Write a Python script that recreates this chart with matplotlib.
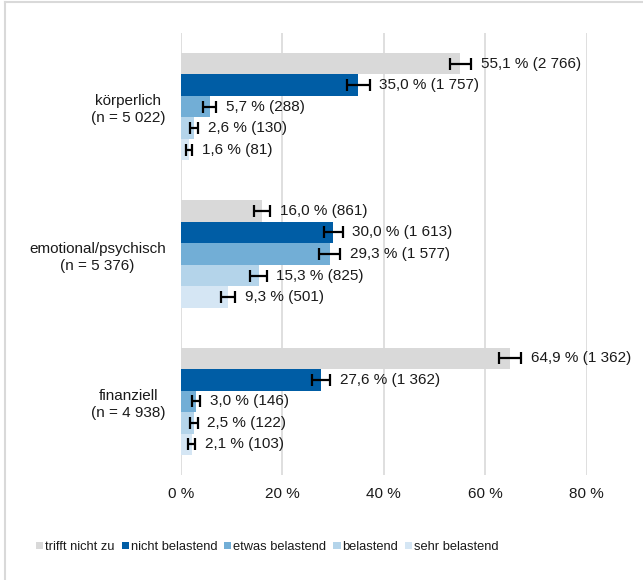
import matplotlib
matplotlib.use("Agg")
import matplotlib.pyplot as plt
from matplotlib.lines import Line2D
import numpy as np

plt.rcParams['font.family'] = ['Liberation Sans', 'DejaVu Sans']

categories = ["körperlich\n(n = 5 022)", "emotional/psychisch\n(n = 5 376)", "finanziell\n(n = 4 938)"]
series_names = ["trifft nicht zu", "nicht belastend", "etwas belastend", "belastend", "sehr belastend"]
colors = ["#D9D9D9", "#005DA5", "#72AED6", "#B4D4EA", "#D5E6F4"]

# values per series (one entry per category)
trifft_nicht_zu = [55.1, 16.0, 64.9]
nicht_belastend = [35.0, 30.0, 27.6]
etwas_belastend = [5.7, 29.3, 3.0]
belastend = [2.6, 15.3, 2.5]
sehr_belastend = [1.6, 9.3, 2.1]

counts_trifft = [2766, 861, 1362]
counts_nicht = [1757, 1613, 1362]
counts_etwas = [288, 1577, 146]
counts_bel = [130, 825, 122]
counts_sehr = [81, 501, 103]

err_trifft = [2.1, 1.6, 2.2]
err_nicht = [2.2, 1.9, 1.8]
err_etwas = [1.3, 2.1, 0.8]
err_bel = [0.8, 1.6, 0.8]
err_sehr = [0.6, 1.4, 0.7]

xticks = [0, 20, 40, 60, 80]
xticklabels = ["0 %", "20 %", "40 %", "60 %", "80 %"]

values = [trifft_nicht_zu, nicht_belastend, etwas_belastend, belastend, sehr_belastend]
counts = [counts_trifft, counts_nicht, counts_etwas, counts_bel, counts_sehr]
errs = [err_trifft, err_nicht, err_etwas, err_bel, err_sehr]

def fmt_count(n):
    return f"{n:,}".replace(",", " ")

def fmt_label(v, n):
    return f"{v:.1f}".replace(".", ",") + " % (" + fmt_count(n) + ")"

W, H = 643, 580
fig = plt.figure(figsize=(W / 100, H / 100), dpi=100)
ax = fig.add_axes([181 / W, 1 - 475 / H, 405.7 / W, 442 / H])

# figure border (light grey, left & top visible)
fig.add_artist(Line2D([4.5 / W, 4.5 / W], [0, 1 - 1.5 / H], transform=fig.transFigure,
                      color="#D9D9D9", linewidth=1.5))
fig.add_artist(Line2D([4.5 / W, 1], [1 - 1.5 / H, 1 - 1.5 / H], transform=fig.transFigure,
                      color="#D9D9D9", linewidth=1.5))

y = np.arange(len(categories))
h = 0.146
for i, (vals, cnts, er) in enumerate(zip(values, counts, errs)):
    pos = y + (i - 2) * h
    ax.barh(pos, vals, height=h, color=colors[i], label=series_names[i], zorder=2)
    ax.errorbar(vals, pos, xerr=er, fmt="none", ecolor="black", elinewidth=1.6,
                capsize=4.2, capthick=1.6, zorder=3)
    for v, p, n, e in zip(vals, pos, cnts, er):
        ax.annotate(fmt_label(v, n), xy=(v + e, p), xytext=(7, 0),
                    textcoords="offset points", va="center", ha="left",
                    fontsize=11, color="#1a1a1a", annotation_clip=False, zorder=4)

ax.set_xlim(0, 80)
ax.set_ylim(2.5, -0.5)
ax.set_xticks(xticks)
ax.set_xticklabels(xticklabels, fontsize=11, color="#1a1a1a")
ax.set_yticks(y)
ax.set_yticklabels(categories, fontsize=11, color="#1a1a1a", ha="right",
                   multialignment="center", linespacing=1.3)
ax.tick_params(axis="y", length=0, pad=11)
ax.tick_params(axis="x", length=0, pad=9)
ax.grid(axis="x", color="#D9D9D9", linewidth=1.2, zorder=0)
ax.set_axisbelow(True)
for s in ax.spines.values():
    s.set_visible(False)

leg = fig.legend(loc="center left", bbox_to_anchor=(36 / W, 1 - 547 / H), ncol=5,
                 frameon=False, fontsize=9.3, handlelength=0.55, handleheight=0.55,
                 handletextpad=0.15, columnspacing=0.55, borderpad=0, borderaxespad=0)
for t in leg.get_texts():
    t.set_color("#1a1a1a")

fig.savefig("out.png", dpi=100)
